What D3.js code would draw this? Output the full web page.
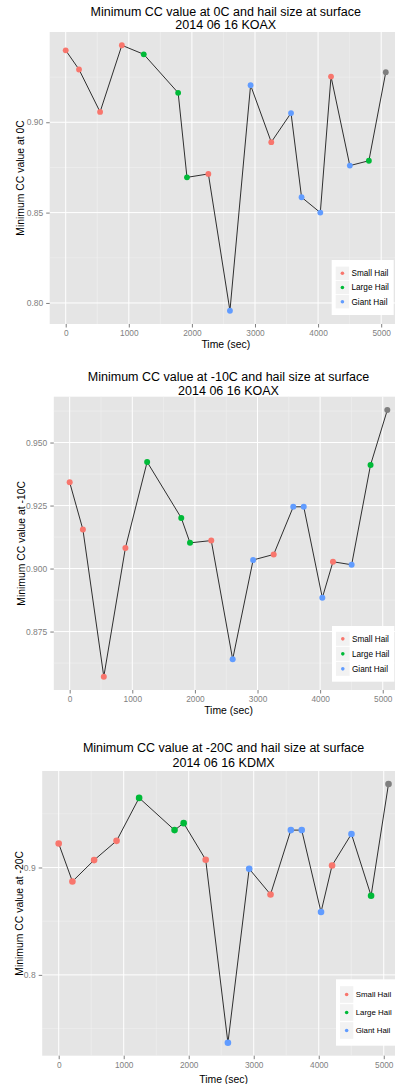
<!DOCTYPE html>
<html>
<head>
<meta charset="utf-8">
<script src="https://cdn.jsdelivr.net/npm/d3@7"></script>
<style>
  body { margin: 0; background: #fff; }
  svg { display: block; font-family: "Liberation Sans", Arial, sans-serif; }
</style>
</head>
<body>
<div id="my_dataviz"></div>
<script>
// time of each scan (sec) - same for all three plots
var times = [0, 211, 545, 890, 1237, 1782, 1922, 2261, 2603, 2930, 3258, 3571, 3738, 4035, 4205, 4503, 4805, 5073];
// hail size reported at the surface (null = no report, drawn grey)
var hailSize = ["Small Hail", "Small Hail", "Small Hail", "Small Hail", "Large Hail", "Large Hail", "Large Hail",
  "Small Hail", "Giant Hail", "Giant Hail", "Small Hail", "Giant Hail", "Giant Hail", "Giant Hail",
  "Small Hail", "Giant Hail", "Large Hail", null];
// minimum CC values
var cc0 = [0.9398, 0.9292, 0.9057, 0.9426, 0.9376, 0.9163, 0.8695, 0.8714, 0.7957, 0.9205, 0.8890, 0.9051,
  0.8585, 0.8500, 0.9253, 0.8760, 0.8787, 0.9277];
var cc10 = [0.9342, 0.9155, 0.8571, 0.9082, 0.9423, 0.9201, 0.9102, 0.9111, 0.8640, 0.9034, 0.9056, 0.9245,
  0.9245, 0.8884, 0.9027, 0.9015, 0.9411, 0.9629];
var cc20 = [0.9223, 0.8870, 0.9069, 0.9248, 0.9648, 0.9348, 0.9413, 0.9072, 0.7368, 0.8988, 0.8749, 0.9348,
  0.9348, 0.8585, 0.9019, 0.9312, 0.8737, 0.9778];

var sizeLabels = ["Small Hail", "Large Hail", "Giant Hail"];
var sizeColors = ["#F8766D", "#00BA38", "#619CFF"];
var naColor = "#7F7F7F";

var xTicks = [0, 1000, 2000, 3000, 4000, 5000];
var yTicks0 = [0.80, 0.85, 0.90];
var yTicks10 = [0.875, 0.900, 0.925, 0.950];
var yTicks20 = [0.8, 0.9];

var titles0 = ["Minimum CC value at 0C and hail size at surface", "2014 06 16 KOAX"];
var titles10 = ["Minimum CC value at -10C and hail size at surface", "2014 06 16 KOAX"];
var titles20 = ["Minimum CC value at -20C and hail size at surface", "2014 06 16 KDMX"];

var width = 395, height = 1084;

var svg = d3.select("#my_dataviz")
  .append("svg")
    .attr("width", width)
    .attr("height", height);

var color = d3.scaleOrdinal().domain(sizeLabels).range(sizeColors).unknown(naColor);

// ggplot style 5% expansion
function expand(ext) {
  var pad = (ext[1] - ext[0]) * 0.05;
  return [ext[0] - pad, ext[1] + pad];
}

// layout of each of the three plots
var panels = [
  { values: cc0, yTicks: yTicks0, fmt: ".2f", titles: titles0, ylab: "Minimum CC value at 0C",
    left: 49.7, right: 401.8, top: 32, bottom: 324, t1: 11.7, t2: 25, xlabY: 344.7, ylabX: 20.7,
    r: 2.9, legend: { x: 331.7, y: 260, w: 62, h: 55, row: 14.2, keyW: 13.4, keyH: 13.4, font: 8.2 } },
  { values: cc10, yTicks: yTicks10, fmt: ".3f", titles: titles10, ylab: "Minimum CC value at -10C",
    left: 53.8, right: 403.2, top: 396.7, bottom: 690, t1: 376.7, t2: 390.8, xlabY: 710, ylabX: 21,
    r: 3.0, legend: { x: 332, y: 626, w: 62.3, h: 55.7, row: 15, keyW: 13.6, keyH: 14, font: 8.2 } },
  { values: cc20, yTicks: yTicks20, fmt: ".1f", titles: titles20, ylab: "Minimum CC value at -20C",
    left: 42.2, right: 405, top: 771, bottom: 1055.7, t1: 747.3, t2: 762.4, xlabY: 1079, ylabX: 19,
    r: 3.3, legend: { x: 336, y: 979.3, w: 60, h: 66.4, row: 18, keyW: 13.3, keyH: 16.7, font: 7.9 } }
];

panels.forEach(function(p) {
  var data = times.map(function(t, i) { return { time: t, size: hailSize[i], cc: p.values[i] }; });

  var x = d3.scaleLinear()
    .domain(expand(d3.extent(times)))
    .range([p.left, p.right]);
  var y = d3.scaleLinear()
    .domain(expand(d3.extent(p.values)))
    .range([p.bottom, p.top]);

  var g = svg.append("g");

  // panel background
  g.append("rect")
    .attr("x", p.left)
    .attr("y", p.top)
    .attr("width", p.right - p.left)
    .attr("height", p.bottom - p.top)
    .attr("fill", "#E5E5E5");

  // minor grid
  var xMinor = xTicks.slice(0, -1).map(function(d, i) { return (d + xTicks[i + 1]) / 2; });
  xMinor.push(xTicks[xTicks.length - 1] + 500);
  var yStep = p.yTicks[1] - p.yTicks[0];
  var yMinor = [p.yTicks[0] - yStep / 2].concat(p.yTicks.map(function(d) { return d + yStep / 2; }))
    .filter(function(d) { return d > y.domain()[0] && d < y.domain()[1]; });
  xMinor = xMinor.filter(function(d) { return d > x.domain()[0] && d < x.domain()[1]; });

  g.selectAll(".xminor").data(xMinor).enter().append("line")
    .attr("x1", function(d) { return x(d); }).attr("x2", function(d) { return x(d); })
    .attr("y1", p.top).attr("y2", p.bottom)
    .attr("stroke", "#F2F2F2").attr("stroke-width", 0.5);
  g.selectAll(".yminor").data(yMinor).enter().append("line")
    .attr("y1", function(d) { return y(d); }).attr("y2", function(d) { return y(d); })
    .attr("x1", p.left).attr("x2", p.right)
    .attr("stroke", "#F2F2F2").attr("stroke-width", 0.5);

  // major grid
  g.selectAll(".xmajor").data(xTicks).enter().append("line")
    .attr("x1", function(d) { return x(d); }).attr("x2", function(d) { return x(d); })
    .attr("y1", p.top).attr("y2", p.bottom)
    .attr("stroke", "#fff").attr("stroke-width", 1);
  g.selectAll(".ymajor").data(p.yTicks).enter().append("line")
    .attr("y1", function(d) { return y(d); }).attr("y2", function(d) { return y(d); })
    .attr("x1", p.left).attr("x2", p.right)
    .attr("stroke", "#fff").attr("stroke-width", 1);

  // X axis
  var xAxis = g.append("g")
    .attr("transform", "translate(0," + p.bottom + ")")
    .call(d3.axisBottom(x).tickValues(xTicks).tickFormat(d3.format("d")).tickSize(3.5).tickPadding(3));
  xAxis.select(".domain").remove();
  xAxis.selectAll("line").attr("stroke", "#7F7F7F");
  xAxis.selectAll("text").attr("fill", "#7F7F7F").style("font-size", "8.3px")
    .style("font-family", "Liberation Sans, Arial, sans-serif");

  // Y axis
  var yAxis = g.append("g")
    .attr("transform", "translate(" + p.left + ",0)")
    .call(d3.axisLeft(y).tickValues(p.yTicks).tickFormat(d3.format(p.fmt)).tickSize(3.5).tickPadding(3));
  yAxis.select(".domain").remove();
  yAxis.selectAll("line").attr("stroke", "#7F7F7F");
  yAxis.selectAll("text").attr("fill", "#7F7F7F").style("font-size", "8.5px")
    .style("font-family", "Liberation Sans, Arial, sans-serif");

  // line + points
  g.append("path")
    .datum(data)
    .attr("fill", "none")
    .attr("stroke", "#1a1a1a")
    .attr("stroke-width", 0.9)
    .attr("d", d3.line().x(function(d) { return x(d.time); }).y(function(d) { return y(d.cc); }));

  g.selectAll(".pt").data(data).enter().append("circle")
    .attr("cx", function(d) { return x(d.time); })
    .attr("cy", function(d) { return y(d.cc); })
    .attr("r", p.r)
    .attr("fill", function(d) { return color(d.size); });

  // titles
  var cx = (p.left + p.right) / 2;
  g.append("text").attr("x", cx).attr("y", p.t1).attr("dy", "0.35em")
    .attr("text-anchor", "middle").style("font-size", "12.5px").text(p.titles[0]);
  g.append("text").attr("x", cx).attr("y", p.t2).attr("dy", "0.35em")
    .attr("text-anchor", "middle").style("font-size", "12.5px").text(p.titles[1]);
  g.append("text").attr("x", cx).attr("y", p.xlabY).attr("dy", "0.35em")
    .attr("text-anchor", "middle").style("font-size", "10.4px").text("Time (sec)");
  g.append("text")
    .attr("transform", "translate(" + p.ylabX + "," + (p.top + p.bottom) / 2 + ")rotate(-90)")
    .attr("dy", "0.35em")
    .attr("text-anchor", "middle").style("font-size", "10.4px").text(p.ylab);

  // legend
  var L = p.legend;
  var leg = g.append("g");
  leg.append("rect")
    .attr("x", L.x).attr("y", L.y).attr("width", L.w).attr("height", L.h)
    .attr("fill", "#fff");
  var pad = (L.h - L.row * sizeLabels.length) / 2;
  sizeLabels.forEach(function(s, i) {
    var cy = L.y + pad + L.row * (i + 0.5);
    leg.append("rect")
      .attr("x", L.x + 4).attr("y", cy - L.keyH / 2)
      .attr("width", L.keyW).attr("height", L.keyH)
      .attr("fill", "#F2F2F2");
    leg.append("circle")
      .attr("cx", L.x + 4 + L.keyW / 2).attr("cy", cy).attr("r", 1.8)
      .attr("fill", color(s));
    leg.append("text")
      .attr("x", L.x + 4 + L.keyW + 2.4).attr("y", cy).attr("dy", "0.35em")
      .style("font-size", L.font + "px").text(s);
  });
});
</script>
</body>
</html>
